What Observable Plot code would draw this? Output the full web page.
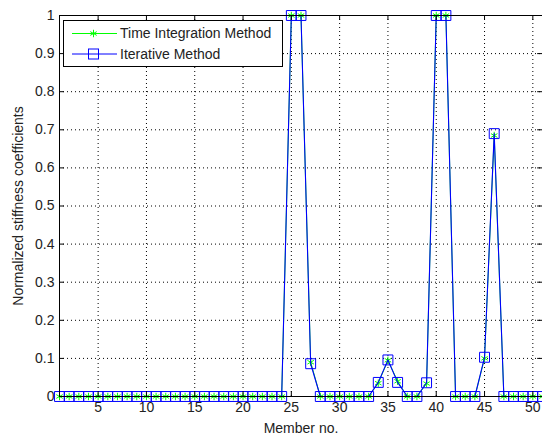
<!DOCTYPE html>
<html>
<head>
<meta charset="utf-8">
<script src="https://cdn.jsdelivr.net/npm/d3@7"></script>
<script src="https://cdn.jsdelivr.net/npm/@observablehq/plot@0.6"></script>
<style>
  html, body { margin: 0; padding: 0; background: #fff; overflow: hidden; }
  #wrap { position: relative; width: 542px; height: 439px; }
  #legend { position: absolute; left: 63px; top: 20px; }
</style>
</head>
<body>
<div id="wrap"></div>
<script>
// ---- data ----
const members = d3.range(1, 52); // 1..51
const iterative = [
  0,0,0,0,0,0,0,0,0,0,          // 1-10
  0,0,0,0,0,0,0,0,0,0,          // 11-20
  0,0,0,0,1,1,0.086,0,0,0,      // 21-30
  0,0,0,0.037,0.096,0.037,0,0,0.036,1, // 31-40
  1,0,0,0,0.103,0.69,0,0,0,0,   // 41-50
  0                              // 51
];
const timeIntegration = [
  0,0,0,0,0,0,0,0,0,0,
  0,0,0,0,0,0,0,0,0,0,
  0,0,0,0,1,1,0.09,0,0,0,
  0,0,0,0.035,0.095,0.04,0,0,0.034,1,
  1,0,0,0,0.1,0.685,0,0,0,0,
  0
];
const seriesNames = ["Time Integration Method", "Iterative Method"];
const seriesColors = ["#00ff00", "#0000ff"];
const xTicks = [5,10,15,20,25,30,35,40,45,50];
const yTicks = [0,0.1,0.2,0.3,0.4,0.5,0.6,0.7,0.8,0.9,1];
const yTickLabels = ["0","0.1","0.2","0.3","0.4","0.5","0.6","0.7","0.8","0.9","1"];
const xLabel = "Member no.";
const yLabel = "Normalized stiffness coefficients";

const tData = members.map((m, i) => ({m, v: timeIntegration[i]}));
const iData = members.map((m, i) => ({m, v: iterative[i]}));
const xGrid = xTicks;
const yGrid = yTicks.filter(d => d > 0 && d < 1);

const chart = Plot.plot({
  width: 542,
  height: 439,
  marginLeft: 59,
  marginRight: 0,
  marginTop: 15,
  marginBottom: 43,
  style: {fontFamily: "Arial, 'Liberation Sans', sans-serif", fontSize: "14px", color: "#222", background: "#fff"},
  x: {domain: [1, 51]},
  y: {domain: [0, 1]},
  marks: [
    // dotted grid
    Plot.ruleX(xGrid, {stroke: "#000", strokeWidth: 1, strokeDasharray: "1,3"}),
    Plot.ruleY(yGrid, {stroke: "#000", strokeWidth: 1, strokeDasharray: "1,3"}),
    // series
    Plot.line(tData, {x: "m", y: "v", stroke: seriesColors[0], strokeWidth: 1}),
    Plot.dot(tData, {x: "m", y: "v", symbol: "asterisk", r: 3.5, stroke: seriesColors[0], strokeWidth: 1}),
    Plot.line(iData, {x: "m", y: "v", stroke: seriesColors[1], strokeWidth: 1.1}),
    Plot.dot(iData, {x: "m", y: "v", symbol: "square", r: 5.6, stroke: seriesColors[1], strokeWidth: 1, fill: "none"}),
    // inward ticks
    Plot.ruleY(yTicks, {x1: 1, x2: 1.5, stroke: "#000"}),
    Plot.ruleY(yTicks, {x1: 50.5, x2: 51, stroke: "#000"}),
    Plot.ruleX(xTicks, {y1: 0, y2: 0.013, stroke: "#000"}),
    Plot.ruleX(xTicks, {y1: 0.987, y2: 1, stroke: "#000"}),
    // axes
    Plot.axisX({ticks: xTicks, tickSize: 0, tickPadding: 6, fontSize: 14,
      label: xLabel, labelAnchor: "center", labelOffset: 36, labelArrow: "none"}),
    Plot.axisY({ticks: yTicks, tickSize: 0, tickPadding: 5, fontSize: 14,
      tickFormat: (d) => yTickLabels[yTicks.indexOf(d)],
      label: yLabel, labelAnchor: "center", labelOffset: 46, labelArrow: "none"}),
    Plot.frame({stroke: "#000", strokeWidth: 1})
  ]
});

const wrap = document.getElementById("wrap");
wrap.appendChild(chart);

// ---- legend (inside plot, top-left) ----
const lw = 220, lh = 47;
const leg = d3.select(wrap).append("svg")
  .attr("id", "legend").attr("width", lw).attr("height", lh)
  .style("font-family", "Arial, 'Liberation Sans', sans-serif").style("font-size", "14px");
leg.append("rect").attr("x", 0.5).attr("y", 0.5).attr("width", lw - 1).attr("height", lh - 1)
  .attr("fill", "#fff").attr("stroke", "#000");
seriesNames.forEach((name, i) => {
  const cy = 13.5 + i * 20.5;
  const g = leg.append("g");
  g.append("line").attr("x1", 9).attr("x2", 54).attr("y1", cy).attr("y2", cy)
    .attr("stroke", seriesColors[i]).attr("stroke-width", 1);
  if (i === 0) {
    g.append("path").attr("transform", `translate(30.5,${cy})`)
      .attr("d", d3.symbol(d3.symbolAsterisk, 3.5 * 3.5 * Math.PI)())
      .attr("stroke", seriesColors[i]).attr("fill", "none");
  } else {
    g.append("rect").attr("x", 25.5).attr("y", cy - 5).attr("width", 10).attr("height", 10)
      .attr("stroke", seriesColors[i]).attr("fill", "none");
  }
  g.append("text").attr("x", 57).attr("y", cy).attr("dy", "0.35em").attr("fill", "#222").text(name);
});
</script>
</body>
</html>
